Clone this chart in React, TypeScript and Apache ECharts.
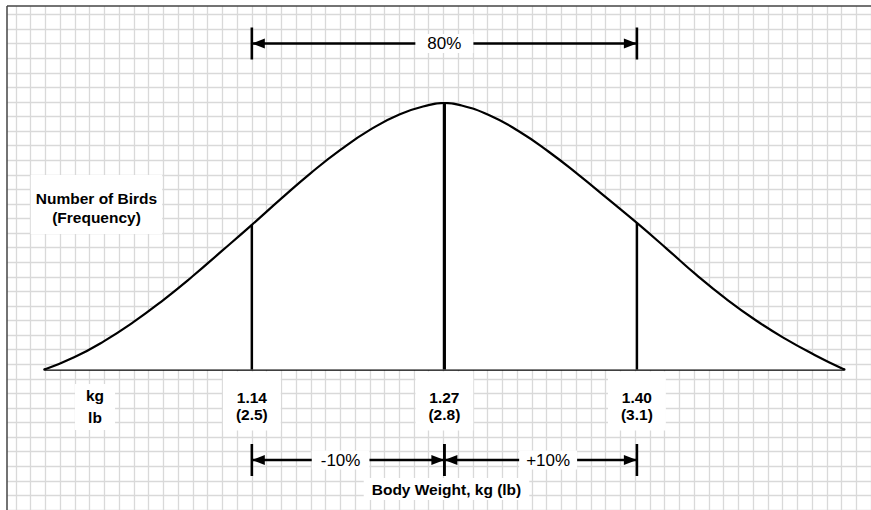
import React, { useEffect, useRef } from 'react';
import * as echarts from 'echarts';

// ---------------- data ----------------
const curveKg = [1.00, 1.02, 1.04, 1.06, 1.08, 1.10, 1.12, 1.14, 1.16, 1.18, 1.20, 1.22, 1.24, 1.26, 1.27, 1.28, 1.30, 1.32, 1.34, 1.36, 1.38, 1.40, 1.42, 1.44, 1.46, 1.48, 1.50, 1.52, 1.54];
const curveFreq = [0, 4.6, 10.6, 17.8, 26.0, 35.0, 44.6, 54.3, 64.2, 73.8, 82.5, 90.0, 95.8, 99.3, 100, 99.3, 95.5, 89.5, 81.9, 73.3, 64.2, 55.0, 45.4, 35.6, 26.6, 18.6, 11.6, 5.5, 0];

const markerKg = [1.14, 1.27, 1.40];
const kgLabels = ['1.14', '1.27', '1.40'];
const lbLabels = ['(2.5)', '(2.8)', '(3.1)'];

const arrowFrom = [1.14, 1.14, 1.27];
const arrowTo = [1.40, 1.27, 1.40];
const arrowText = ['80%', '-10%', '+10%'];

const yTitle = 'Number of Birds\n(Frequency)';
const unitText = 'kg\nlb';
const xTitle = 'Body Weight, kg (lb)';

// ---------------- layout / style ----------------
const CELL = 14.81;
const FONT = "'Liberation Sans', Arial, Helvetica, sans-serif";
const ARROW_Y = [43.5, 460, 460];
const ARROW_TEXT_DX = [0, -7.5, 7.5];
const ARROW_TEXT_PAD = [12, 9, 7];
const BAR_HALF = 16;
const HEAD_LEN = 13;
const HEAD_HALF = 5;

function freqAt(k: number) {
  const i = curveKg.findIndex((v) => Math.abs(v - k) < 1e-6);
  return i >= 0 ? curveFreq[i] : 0;
}

export default function App() {
  const ref = useRef<HTMLDivElement>(null);

  useEffect(() => {
    if (!ref.current) return;
    const chart = echarts.init(ref.current, null, { renderer: 'svg' });

    const option: any = {
      animation: false,
      backgroundColor: '#fff',
      grid: [
        { left: 16 - CELL, top: 14 - CELL, width: 59 * CELL, height: 35 * CELL, show: false },
        { left: 44.5, top: 103, width: 54 * CELL, height: 18 * CELL, show: false },
      ],
      xAxis: [
        {
          gridIndex: 0, type: 'value', min: 0, max: 59, interval: 1,
          axisLine: { show: false }, axisTick: { show: false }, axisLabel: { show: false },
          splitLine: { show: true, lineStyle: { color: '#d9d9d9', width: 1.3 } },
        },
        {
          gridIndex: 1, type: 'value', min: 1.0, max: 1.54,
          axisLine: { show: true, onZero: true, lineStyle: { color: '#000', width: 2.5 } },
          axisTick: { show: false },
          splitLine: { show: false },
          axisLabel: {
            customValues: markerKg,
            margin: 2,
            formatter: (v: number) => {
              const i = markerKg.findIndex((k) => Math.abs(k - v) < 1e-6);
              return i >= 0 ? kgLabels[i] + '\n' + lbLabels[i] : '';
            },
            fontFamily: FONT,
            fontSize: 15.5,
            fontWeight: 'bold',
            color: '#000',
            lineHeight: 17.5,
            backgroundColor: '#fff',
            padding: [17, 13, 7, 13],
          },
        },
      ],
      yAxis: [
        {
          gridIndex: 0, type: 'value', min: 0, max: 35, interval: 1,
          axisLine: { show: false }, axisTick: { show: false }, axisLabel: { show: false },
          splitLine: { show: true, lineStyle: { color: '#d9d9d9', width: 1.3 } },
        },
        {
          gridIndex: 1, type: 'value', min: 0, max: 100,
          axisLine: { show: false }, axisTick: { show: false }, axisLabel: { show: false },
          splitLine: { show: false },
        },
      ],
      series: [
        {
          type: 'line',
          xAxisIndex: 1, yAxisIndex: 1,
          data: curveKg.map((k, i) => [k, curveFreq[i]]),
          smooth: 0.5,
          symbol: 'none',
          lineStyle: { color: '#000', width: 2.2 },
          areaStyle: { color: '#fff', opacity: 1 },
          z: 3,
        },
        {
          type: 'custom',
          xAxisIndex: 1, yAxisIndex: 1,
          data: markerKg.map((k) => [k, freqAt(k)]),
          z: 4,
          renderItem: (params: any, api: any) => {
            const x = api.value(0);
            const h = api.value(1);
            const p0 = api.coord([x, 0]);
            const p1 = api.coord([x, h]);
            return {
              type: 'line',
              shape: { x1: p0[0], y1: p0[1], x2: p1[0], y2: p1[1] },
              style: { stroke: '#000', lineWidth: params.dataIndex === 1 ? 3.2 : 2.5 },
            };
          },
        },
        {
          type: 'custom',
          xAxisIndex: 1, yAxisIndex: 1,
          clip: false,
          encode: { x: [0, 1], y: 2 },
          data: arrowFrom.map((a, i) => [a, arrowTo[i], 0]),
          z: 5,
          renderItem: (params: any, api: any) => {
            const i = params.dataIndex;
            const x1 = api.coord([api.value(0), 0])[0];
            const x2 = api.coord([api.value(1), 0])[0];
            const y = ARROW_Y[i];
            const blk = '#000';
            return {
              type: 'group',
              children: [
                { type: 'line', shape: { x1: x1, y1: y, x2: x2, y2: y }, style: { stroke: blk, lineWidth: 2.3 } },
                { type: 'line', shape: { x1: x1, y1: y - BAR_HALF, x2: x1, y2: y + BAR_HALF }, style: { stroke: blk, lineWidth: 2.6 } },
                { type: 'line', shape: { x1: x2, y1: y - BAR_HALF, x2: x2, y2: y + BAR_HALF }, style: { stroke: blk, lineWidth: 2.6 } },
                { type: 'polygon', shape: { points: [[x1, y], [x1 + HEAD_LEN, y - HEAD_HALF], [x1 + HEAD_LEN, y + HEAD_HALF]] }, style: { fill: blk } },
                { type: 'polygon', shape: { points: [[x2, y], [x2 - HEAD_LEN, y - HEAD_HALF], [x2 - HEAD_LEN, y + HEAD_HALF]] }, style: { fill: blk } },
                {
                  type: 'text',
                  style: {
                    text: arrowText[i],
                    x: (x1 + x2) / 2 + ARROW_TEXT_DX[i],
                    y: y,
                    align: 'center',
                    verticalAlign: 'middle',
                    fontFamily: FONT,
                    fontSize: 17,
                    fill: blk,
                    backgroundColor: '#fff',
                    padding: [1, ARROW_TEXT_PAD[i]],
                  },
                },
              ],
            };
          },
        },
      ],
      graphic: [
        { type: 'rect', z: 100, shape: { x: 0, y: 0, width: 7, height: 510 }, style: { fill: '#fff' } },
        { type: 'rect', z: 100, shape: { x: 0, y: 0, width: 871, height: 6 }, style: { fill: '#fff' } },
        { type: 'line', z: 101, shape: { x1: 7, y1: 6, x2: 7, y2: 510 }, style: { stroke: '#444', lineWidth: 1.5 } },
        { type: 'line', z: 101, shape: { x1: 7, y1: 6, x2: 871, y2: 6 }, style: { stroke: '#444', lineWidth: 1.5 } },
        {
          type: 'text', z: 50,
          style: {
            text: yTitle, x: 96.5, y: 175, align: 'center', verticalAlign: 'top',
            fontFamily: FONT, fontSize: 15.5, fontWeight: 'bold', fill: '#000', lineHeight: 19,
            backgroundColor: '#fff', padding: [14, 5, 7, 5],
          },
        },
        {
          type: 'text', z: 50,
          style: {
            text: unitText, x: 95, y: 384, align: 'center', verticalAlign: 'top',
            fontFamily: FONT, fontSize: 15.5, fontWeight: 'bold', fill: '#000', lineHeight: 21.5,
            backgroundColor: '#fff', padding: [1, 11, 2, 11],
          },
        },
        {
          type: 'text', z: 50,
          style: {
            text: xTitle, x: 446.5, y: 489, align: 'center', verticalAlign: 'middle',
            fontFamily: FONT, fontSize: 15.5, fontWeight: 'bold', fill: '#000',
            backgroundColor: '#fff', padding: [3, 8],
          },
        },
      ],
    };

    chart.setOption(option);
    return () => chart.dispose();
  }, []);

  return (
    <div
      ref={ref}
      style={{ position: 'fixed', left: 0, top: 0, width: 871, height: 510, background: '#fff' }}
    />
  );
}
